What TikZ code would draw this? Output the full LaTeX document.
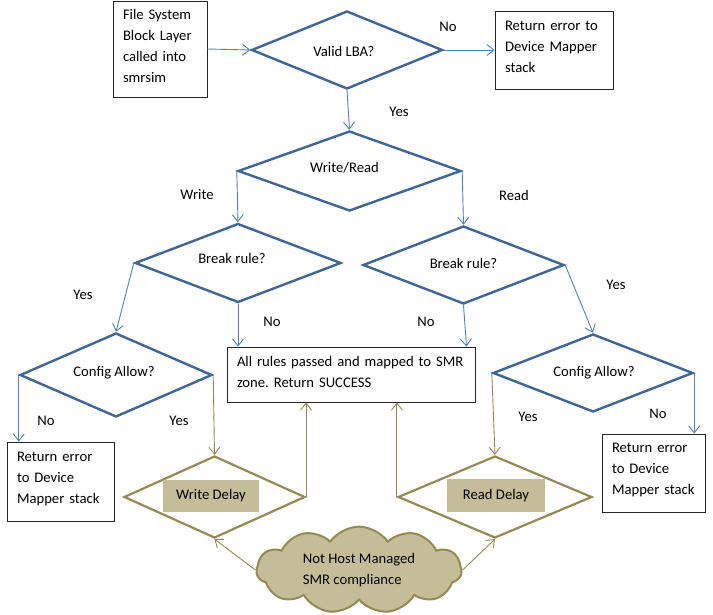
\documentclass[tikz,border=0pt]{standalone}
\usepackage{fontspec}
\setmainfont{Carlito}
\usetikzlibrary{shapes.geometric,shapes.symbols,arrows.meta}
\definecolor{dblue}{HTML}{3F6697}
\definecolor{ablue}{HTML}{4F81BD}
\definecolor{olive}{HTML}{948A54}
\definecolor{tan}{HTML}{C4BD97}
\frenchspacing
\begin{document}
\begin{tikzpicture}[x=1pt,y=-1pt,
  every node/.style={font=\fontsize{14.67}{21}\selectfont},
  dec/.style={diamond,draw=dblue,line width=2.4pt,inner sep=0pt,minimum width=#1},
  delaydec/.style={diamond,draw=olive,line width=2.2pt,inner sep=0pt,minimum width=#1},
  box/.style={draw=black!85,line width=0.8pt,inner xsep=10pt,inner ysep=0pt,align=left,
     minimum width=#1,text width=#1-20pt,execute at end node={\endgraf\vspace*{6pt}}},
  tanbox/.style={fill=tan,inner sep=0pt},
  lbl/.style={inner sep=0pt},
  barrow/.style={draw=ablue,line width=0.9pt,-{Straight Barb[length=7pt,width=11pt]}},
  oarrow/.style={draw=olive,line width=0.9pt,-{Straight Barb[length=7pt,width=11pt]}}
]
\useasboundingbox (0,0) rectangle (713,615);

% decision diamonds
\node[dec=191pt,minimum height=78pt,label={[xshift=-3pt,yshift=-1pt]center:Valid LBA?}] (valid) at (347,50) {};
\node[dec=223pt,minimum height=80pt,label={[xshift=-5pt,yshift=3pt]center:Write/Read}] (wr) at (349.5,171) {};
\node[dec=206pt,minimum height=79pt,label={[xshift=-6pt,yshift=5pt]center:Break rule?}] (brl) at (238,263) {};
\node[dec=201pt,minimum height=78pt,label={[xshift=0pt,yshift=2pt]center:Break rule?}] (brr) at (463.5,265) {};
\node[dec=192pt,minimum height=84pt,label={[xshift=-2pt,yshift=2pt]center:Config Allow?}] (cl) at (116,375) {};
\node[dec=200pt,minimum height=78pt,label={[xshift=1pt,yshift=0pt]center:Config Allow?}] (cr) at (593,373) {};

% delay diamonds
\node[delaydec=181pt,minimum height=82pt] (wd) at (214.5,497) {};
\node[delaydec=194pt,minimum height=82pt] (rd) at (495,497) {};
\node[tanbox,minimum width=96pt,minimum height=32pt] (wdt) at (211,496) {Write Delay};
\node[tanbox,minimum width=98pt,minimum height=33pt] (rdt) at (496,495.5) {Read Delay};

% boxes
\node[box=94pt,minimum height=96pt] (file) at (160,49) {File System\\Block Layer\\called into\\smrsim};
\node[box=118pt,minimum height=78pt] (err1) at (554,50) {Return error to\\Device Mapper\\stack};
\node[box=248pt,minimum height=55pt] (all) at (351,374.5) {All rules passed and mapped to SMR\\zone. Return SUCCESS};
\node[box=107pt,minimum height=79pt] (errl) at (60.5,481.5) {Return error\\to Device\\Mapper stack};
\node[box=103pt,minimum height=78pt] (errr) at (653.5,473) {Return error\\to Device\\Mapper stack};

% cloud
\node[cloud,cloud puffs=11,cloud puff arc=110,aspect=2.4,fill=tan,draw=olive,line width=2pt,
      minimum width=205pt,minimum height=84pt,inner sep=0pt,align=left] (cloud) at (359,570)
      {Not Host Managed\\SMR compliance};

% blue connectors
\draw[barrow] (file.east) -- (valid.west);
\draw[barrow] (valid.east) -- (err1.west);
\draw[barrow] (valid.south) -- (wr.north);
\draw[barrow] (wr.west) -- (brl.north);
\draw[barrow] (wr.east) -- (brr.north);
\draw[barrow] (brl.south) -- (brl.south |- all.north);
\draw[barrow] (brr.south) -- ([xshift=3pt]brr.south |- all.north);
\draw[barrow] (brl.west) -- (cl.north);
\draw[barrow] (brr.east) -- (cr.north);
\draw[barrow] (cl.west) -- (cl.west |- errl.north);
\draw[barrow] (cr.east) -- (cr.east |- errr.north);

% olive connectors
\draw[oarrow] (cl.east) -- (wd.north);
\draw[oarrow] (cr.west) -- (rd.north);
\draw[oarrow] (wd.east) -- (wd.east |- all.south);
\draw[oarrow] (rd.west) -- (rd.west |- all.south);
\draw[oarrow] (cloud.west) -- (wd.south);
\draw[oarrow] (cloud.east) -- (rd.south);

% labels
\node[lbl] (l1) at (448,27) {No};
\node[lbl] (l2) at (399,112) {Yes};
\node[lbl] (l3) at (197,195) {Write};
\node[lbl] (l4) at (514,195) {Read};
\node[lbl] (l5) at (83,295) {Yes};
\node[lbl] (l6) at (272,322) {No};
\node[lbl] (l7) at (426,322) {No};
\node[lbl] (l8) at (616,285) {Yes};
\node[lbl] (l9) at (46,421) {No};
\node[lbl] (l10) at (179,421) {Yes};
\node[lbl] (l11) at (528,417) {Yes};
\node[lbl] (l12) at (658,414) {No};
\end{tikzpicture}
\end{document}
